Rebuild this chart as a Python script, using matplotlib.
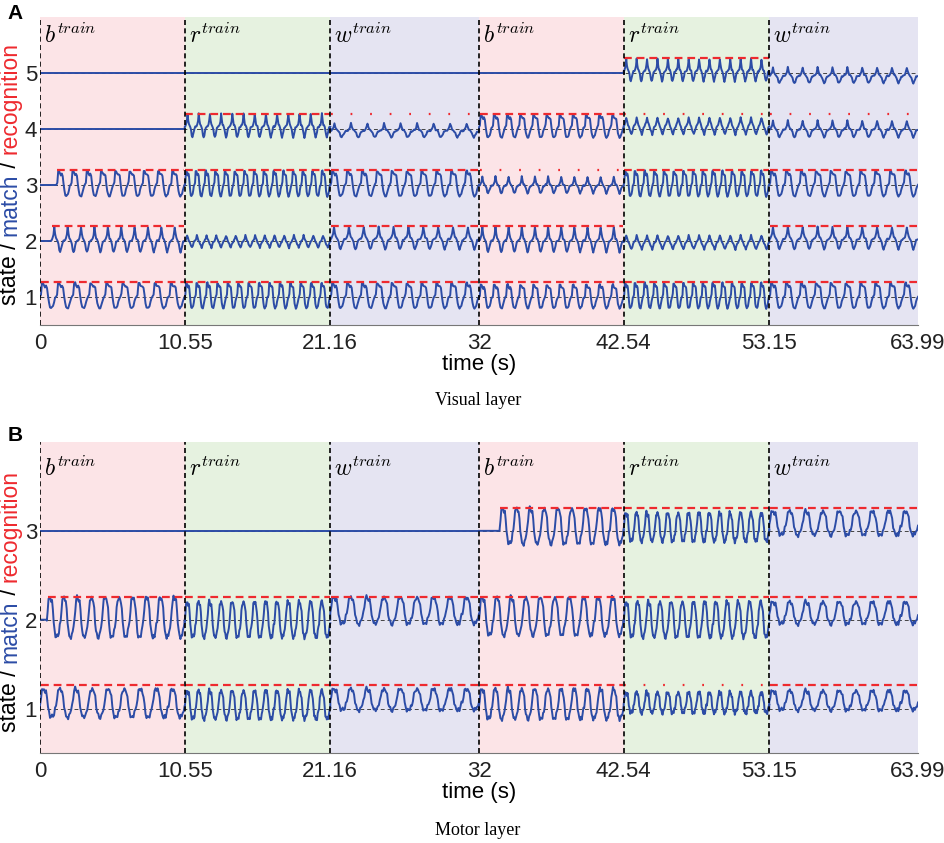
import matplotlib
matplotlib.use("Agg")
import matplotlib.pyplot as plt

plt.rcParams["font.family"] = ["Liberation Sans", "DejaVu Sans"]
plt.rcParams["mathtext.fontset"] = "cm"

# ---------------------------------------------------------------- data
BOUNDS = [0, 10.55, 21.16, 32, 42.54, 53.15, 63.99]
SEG_NAMES = ["b", "r", "w", "b", "r", "w"]
SEG_COLORS = ["#fce4e7", "#e6f2e0", "#e5e4f2", "#fce4e7", "#e6f2e0", "#e5e4f2"]

# one oscillation cycle, 0 = trough, 1 = peak
SHAPE_SQUARE = [0.45, 0.55, 0.98, 1.0, 0.9, 0.85, 0.88, 0.8, 0.5, 0.2, 0.05, 0.0, 0.02, 0.1, 0.25, 0.4]
SHAPE_PEAK = [0.45, 0.5, 0.55, 0.7, 1.0, 0.75, 0.55, 0.5, 0.45, 0.3, 0.1, 0.0, 0.1, 0.25, 0.4, 0.45]
SHAPE_SMALL = [0.5, 0.6, 0.75, 1.0, 0.8, 0.6, 0.45, 0.3, 0.15, 0.0, 0.2, 0.4]
SHAPE_ROUND = [0.4, 0.7, 0.92, 1.0, 0.98, 0.95, 0.9, 0.7, 0.4, 0.15, 0.05, 0.0, 0.02, 0.05, 0.15, 0.3]
SHAPES = {"sq": SHAPE_SQUARE, "pk": SHAPE_PEAK, "sm": SHAPE_SMALL, "rd": SHAPE_ROUND}
JITTER = [0.3, -0.5, 0.8, -0.2, 0.1, -0.9, 0.6, 0.0, -0.4, 0.7, -0.7, 0.2,
          0.9, -0.3, -0.8, 0.5, 0.1, -0.6, 0.4, -0.1, 0.7, -0.5, 0.2]

# Visual layer, states 1..5, one entry per segment
A_LEVELS = [1, 2, 3, 4, 5]
A_HI = [[1.25, 1.25, 1.25, 1.22, 1.25, 1.25],
        [2.25, 2.10, 2.25, 2.25, 2.10, 2.25],
        [3.25, 3.25, 3.25, 3.15, 3.25, 3.25],
        [4.00, 4.27, 4.10, 4.25, 4.20, 4.15],
        [5.00, 5.00, 5.00, 5.00, 5.25, 5.10]]
A_LO = [[0.80, 0.80, 0.80, 0.80, 0.80, 0.80],
        [1.80, 1.88, 1.85, 1.80, 1.85, 1.85],
        [2.80, 2.80, 2.80, 2.85, 2.80, 2.80],
        [4.00, 3.85, 3.85, 3.85, 3.90, 3.85],
        [5.00, 5.00, 5.00, 5.00, 4.85, 4.82]]
A_CYCLES = [[9, 14, 10, 11, 15, 10],
            [10, 15, 10, 11, 14, 10],
            [9, 15, 10, 11, 15, 10],
            [0, 13, 9, 11, 14, 10],
            [0, 0, 0, 0, 14, 10]]
A_SHAPE = [["sq", "sq", "sq", "sq", "sq", "sq"],
           ["pk", "sm", "pk", "pk", "sm", "pk"],
           ["sq", "sq", "sq", "pk", "sq", "sq"],
           ["pk", "pk", "pk", "sq", "sm", "pk"],
           ["pk", "pk", "pk", "pk", "pk", "pk"]]
A_DELAY = [[0, 0, 0, 0, 0, 0],
           [0.8, 0, 0, 0, 0, 0],
           [1.2, 0, 0, 0, 0, 0],
           [0, 0, 0, 0, 0, 0],
           [0, 0, 0, 0, 0, 0]]
A_RED = [["dash", "dash", "dash", "dash", "dash", "dash"],
         ["dash", None, "dash", "dash", None, "dash"],
         ["dash", "dash", "dash", "dot", "dash", "dash"],
         [None, "dash", "dot", "dash", "dot", "dot"],
         [None, None, None, None, "dash", None]]

# Motor layer, states 1..3
B_LEVELS = [1, 2, 3]
B_HI = [[1.22, 1.20, 1.22, 1.22, 1.18, 1.20],
        [2.25, 2.20, 2.25, 2.25, 2.20, 2.20],
        [3.00, 3.00, 3.00, 3.25, 3.20, 3.22]]
B_LO = [[0.90, 0.88, 0.98, 0.88, 0.95, 0.98],
        [1.80, 1.80, 1.95, 1.82, 1.80, 1.95],
        [3.00, 3.00, 3.00, 2.85, 2.88, 2.95]]
B_CYCLES = [[9, 13, 9, 11, 14, 9],
            [10, 13, 9, 10, 13, 9],
            [0, 0, 0, 9, 14, 9]]
B_SHAPE = [["rd"] * 6, ["rd"] * 6, ["rd"] * 6]
B_DELAY = [[0, 0, 0, 0, 0, 0],
           [0.5, 0, 0, 0, 0, 0],
           [0, 0, 0, 1.5, 0, 0]]
B_RED = [["dash", "dash", "dash", "dash", "dot", "dash"],
         ["dash"] * 6,
         [None, None, None, "dash", "dash", "dash"]]

BLUE = "#2c4ca6"
RED = "#ee2a2f"
RED_OFFSET = 0.26


def build_trace(t0, t1, level, hi, lo, n, shape, delay, jit):
    """Piecewise trace for one state in one segment."""
    if n == 0:
        return [t0, t1], [level, level]
    pts = SHAPES[shape]
    ts, ys = [t0], [level]
    start = t0 + delay
    if delay > 0:
        ts.append(start)
        ys.append(level)
    period = (t1 - start) / n
    m = len(pts)
    j = 0
    for c in range(n):
        for k, p in enumerate(pts):
            ts.append(start + period * (c + k / m))
            ys.append(lo + (hi - lo) * p + jit * JITTER[j % len(JITTER)])
            j += 1
    ts.append(t1)
    ys.append(lo + (hi - lo) * pts[0])
    return ts, ys


def draw_panel(ax, levels, his, los, cycles, shapes, delays, reds, ylim, jit, label_y):
    for i in range(6):
        ax.axvspan(BOUNDS[i], BOUNDS[i + 1], color=SEG_COLORS[i], lw=0, zorder=0)
        ax.text(BOUNDS[i] + 0.3, label_y, r"$%s^{train}$" % SEG_NAMES[i],
                fontsize=17, va="top", ha="left", zorder=5)
    for lv in levels:
        ax.plot([BOUNDS[0], BOUNDS[-1]], [lv, lv], color="#444444", lw=0.7,
                dashes=(4, 3), zorder=1)
    for s, lv in enumerate(levels):
        for i in range(6):
            t0, t1 = BOUNDS[i], BOUNDS[i + 1]
            ts, ys = build_trace(t0, t1, lv, his[s][i], los[s][i], cycles[s][i],
                                 shapes[s][i], delays[s][i], jit)
            ax.plot(ts, ys, color=BLUE, lw=1.4, zorder=3)
            mode = reds[s][i]
            if mode is not None:
                dash = (3.5, 2.2) if mode == "dash" else (0.8, 8)
                ax.plot([t0 + delays[s][i] + 0.05, t1 - 0.05],
                        [lv + RED_OFFSET] * 2, color=RED, lw=1.6,
                        dashes=dash, zorder=4)
    for b in BOUNDS[:-1]:
        ax.axvline(b, color="black", lw=1.2, dashes=(3, 2), zorder=6)
    ax.set_xlim(BOUNDS[0], BOUNDS[-1])
    ax.set_ylim(*ylim)
    ax.set_xticks(BOUNDS)
    ax.set_xticklabels(["0", "10.55", "21.16", "32", "42.54", "53.15", "63.99"])
    ax.set_yticks(levels)
    ax.tick_params(length=0, labelsize=16, colors="#222222", pad=6)
    ax.tick_params(axis="y", pad=2)
    for sp in ["top", "right", "left"]:
        ax.spines[sp].set_visible(False)
    ax.spines["bottom"].set_color("#777777")
    ax.set_xlabel("time (s)", fontsize=16, labelpad=0)


def colored_ylabel(fig, renderer, x, yc, parts, size):
    texts = [fig.text(x, 0, s, color=c, rotation=90, fontsize=size,
                      ha="center", va="bottom") for s, c in parts]
    heights = [t.get_window_extent(renderer).height / fig.bbox.height for t in texts]
    y = yc - sum(heights) / 2
    for t, h in zip(texts, heights):
        t.set_y(y)
        y += h


fig = plt.figure(figsize=(9.45, 8.43), dpi=100)
ax_a = fig.add_axes([0.0423, 0.6145, 0.9291, 0.3653])
ax_b = fig.add_axes([0.0423, 0.1068, 0.9291, 0.3689])

draw_panel(ax_a, A_LEVELS, A_HI, A_LO, A_CYCLES, A_SHAPE, A_DELAY, A_RED,
           (0.5, 6.0), 0.015, 5.9)
draw_panel(ax_b, B_LEVELS, B_HI, B_LO, B_CYCLES, B_SHAPE, B_DELAY, B_RED,
           (0.5, 4.0), 0.03, 3.84)

fig.text(0.506, 0.5255, "Visual layer", fontsize=13, family="Liberation Serif",
         ha="center", va="center")
fig.text(0.506, 0.0154, "Motor layer", fontsize=13, family="Liberation Serif",
         ha="center", va="center")
fig.text(0.008, 0.984, "A", fontsize=15, weight="bold", va="center")
fig.text(0.008, 0.483, "B", fontsize=15, weight="bold", va="center")

renderer = fig.canvas.get_renderer()
parts = [("state / ", "black"), ("match", BLUE), (" / ", "black"), ("recognition", RED)]
colored_ylabel(fig, renderer, 0.0105, 0.794, parts, 16.5)
colored_ylabel(fig, renderer, 0.0105, 0.287, parts, 16.5)

fig.savefig("out.png", dpi=100)
